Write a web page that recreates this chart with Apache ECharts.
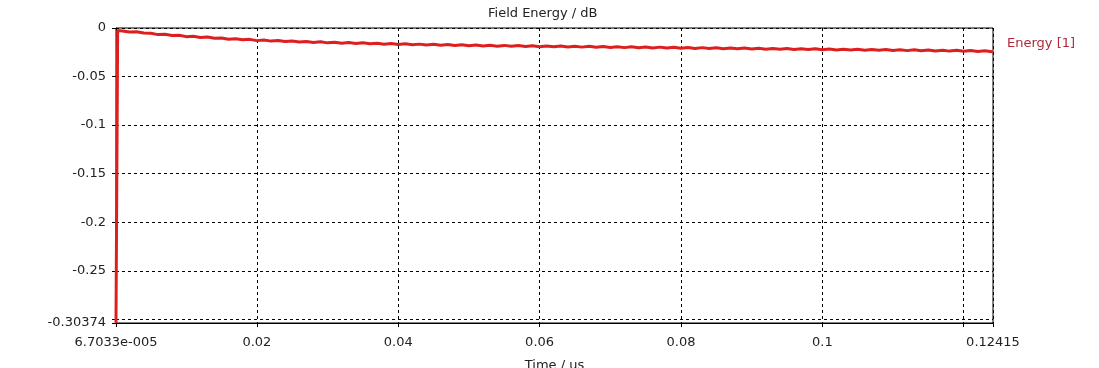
<!DOCTYPE html>
<html>
<head>
<meta charset="utf-8">
<script src="https://cdn.jsdelivr.net/npm/echarts@6/dist/echarts.min.js"></script>
<style>
html,body{margin:0;padding:0;background:#fff;}
#chart{width:1099px;height:368px;}
</style>
</head>
<body>
<div id="chart"></div>
<script>
// ---- data ----
const chartTitle = 'Field Energy / dB';
const xAxisTitle = 'Time / us';
const seriesName = 'Energy [1]';

const xMin = 6.7033e-5;
const xMax = 0.12415;
const yMin = -0.30374;
const yMax = 0;

const xTickValues = [6.7033e-5, 0.02, 0.04, 0.06, 0.08, 0.1, 0.12, 0.12415];
const xLabelValues = [6.7033e-5, 0.02, 0.04, 0.06, 0.08, 0.1, 0.12415];
const xLabelTexts = ['6.7033e-005', '0.02', '0.04', '0.06', '0.08', '0.1', '0.12415'];

const yTickValues = [0, -0.05, -0.1, -0.15, -0.2, -0.25, -0.3, -0.30374];
const yLabelValues = [0, -0.05, -0.1, -0.15, -0.2, -0.25, -0.30374];
const yLabelTexts = ['0', '-0.05', '-0.1', '-0.15', '-0.2', '-0.25', '-0.30374'];

const timeValues = [
  0.000067033, 0.0003, 0.001, 0.002, 0.003, 0.004, 0.005, 0.006, 0.007, 0.008, 0.009,
  0.010, 0.011, 0.012, 0.013, 0.014, 0.015, 0.016, 0.017, 0.018, 0.019,
  0.020, 0.021, 0.022, 0.023, 0.024, 0.025, 0.026, 0.027, 0.028, 0.029,
  0.030, 0.031, 0.032, 0.033, 0.034, 0.035, 0.036, 0.037, 0.038, 0.039,
  0.040, 0.041, 0.042, 0.043, 0.044, 0.045, 0.046, 0.047, 0.048, 0.049,
  0.050, 0.051, 0.052, 0.053, 0.054, 0.055, 0.056, 0.057, 0.058, 0.059,
  0.060, 0.061, 0.062, 0.063, 0.064, 0.065, 0.066, 0.067, 0.068, 0.069,
  0.070, 0.071, 0.072, 0.073, 0.074, 0.075, 0.076, 0.077, 0.078, 0.079,
  0.080, 0.081, 0.082, 0.083, 0.084, 0.085, 0.086, 0.087, 0.088, 0.089,
  0.090, 0.091, 0.092, 0.093, 0.094, 0.095, 0.096, 0.097, 0.098, 0.099,
  0.100, 0.101, 0.102, 0.103, 0.104, 0.105, 0.106, 0.107, 0.108, 0.109,
  0.110, 0.111, 0.112, 0.113, 0.114, 0.115, 0.116, 0.117, 0.118, 0.119,
  0.120, 0.121, 0.122, 0.123, 0.124, 0.12415
];

const energyValues = [
  -0.30374, -0.0025, -0.0030, -0.0042, -0.0038, -0.0052, -0.0055, -0.0068, -0.0064, -0.0078, -0.0074,
  -0.0089, -0.0085, -0.0097, -0.0093, -0.0106, -0.0102, -0.0115, -0.0110, -0.0122, -0.0117,
  -0.0130, -0.0124, -0.0135, -0.0129, -0.0140, -0.0134, -0.0145, -0.0138, -0.0149, -0.0142,
  -0.0153, -0.0146, -0.0157, -0.0150, -0.0160, -0.0153, -0.0163, -0.0157, -0.0167, -0.0160,
  -0.0170, -0.0163, -0.0173, -0.0166, -0.0176, -0.0168, -0.0178, -0.0171, -0.0181, -0.0173,
  -0.0183, -0.0175, -0.0185, -0.0177, -0.0187, -0.0179, -0.0189, -0.0181, -0.0191, -0.0183,
  -0.0193, -0.0185, -0.0194, -0.0186, -0.0196, -0.0188, -0.0197, -0.0189, -0.0199, -0.0191,
  -0.0200, -0.0192, -0.0202, -0.0194, -0.0203, -0.0195, -0.0205, -0.0197, -0.0206, -0.0198,
  -0.0208, -0.0200, -0.0210, -0.0202, -0.0211, -0.0203, -0.0213, -0.0205, -0.0214, -0.0206,
  -0.0216, -0.0208, -0.0218, -0.0210, -0.0219, -0.0211, -0.0221, -0.0213, -0.0222, -0.0214,
  -0.0224, -0.0216, -0.0226, -0.0218, -0.0227, -0.0219, -0.0229, -0.0221, -0.0230, -0.0222,
  -0.0232, -0.0224, -0.0233, -0.0225, -0.0235, -0.0227, -0.0236, -0.0228, -0.0238, -0.0230,
  -0.0239, -0.0232, -0.0241, -0.0234, -0.0245, -0.0240
];

// ---- chart ----
const seriesData = timeValues.map((t, i) => [t, energyValues[i]]);
const FONT = 'DejaVu Sans';

function labelFor(values, texts, v) {
  for (let i = 0; i < values.length; i++) {
    if (Math.abs(values[i] - v) < 1e-9) return texts[i];
  }
  return '';
}

const chart = echarts.init(document.getElementById('chart'), null, { renderer: 'canvas' });
chart.setOption({
  animation: false,
  backgroundColor: '#ffffff',
  title: {
    text: chartTitle,
    left: 483,
    top: 2,
    textStyle: { fontFamily: FONT, fontSize: 13, fontWeight: 'normal', color: '#222' }
  },
  legend: {
    data: [{ name: seriesName, icon: 'none' }],
    left: 997,
    top: 32,
    itemWidth: 0,
    itemHeight: 0,
    textStyle: { fontFamily: FONT, fontSize: 13, color: '#b0283a' }
  },
  grid: {
    left: 116, right: 106, top: 28, bottom: 45,
    outerBoundsMode: 'none',
    containLabel: false,
    show: true, borderColor: '#000', borderWidth: 1, backgroundColor: '#fff'
  },
  xAxis: {
    type: 'value',
    min: xMin, max: xMax,
    name: xAxisTitle,
    nameLocation: 'middle',
    nameGap: 36,
    nameTextStyle: { fontFamily: FONT, fontSize: 13, color: '#222' },
    axisLine: { show: true, onZero: false, lineStyle: { color: '#000', width: 1 } },
    axisTick: { show: true, length: 4, customValues: xTickValues, lineStyle: { color: '#000' } },
    axisLabel: {
      customValues: xLabelValues,
      margin: 13,
      fontFamily: FONT, fontSize: 13, color: '#222',
      formatter: v => labelFor(xLabelValues, xLabelTexts, v)
    },
    splitLine: { show: true, lineStyle: { color: '#000', type: [3, 3], width: 1 } }
  },
  yAxis: {
    type: 'value',
    min: yMin, max: yMax,
    axisLine: { show: true, onZero: false, lineStyle: { color: '#000', width: 1 } },
    axisTick: { show: true, length: 4, customValues: yTickValues, lineStyle: { color: '#000' } },
    axisLabel: {
      customValues: yLabelValues,
      margin: 10,
      fontFamily: FONT, fontSize: 13, color: '#222',
      formatter: v => labelFor(yLabelValues, yLabelTexts, v)
    },
    splitLine: { show: true, lineStyle: { color: '#000', type: [3, 3], width: 1 } }
  },
  series: [{
    name: seriesName,
    type: 'line',
    data: seriesData,
    showSymbol: false,
    clip: true,
    lineStyle: { color: '#de1f1f', width: 3 },
    itemStyle: { color: '#de1f1f' }
  }]
});
</script>
</body>
</html>
